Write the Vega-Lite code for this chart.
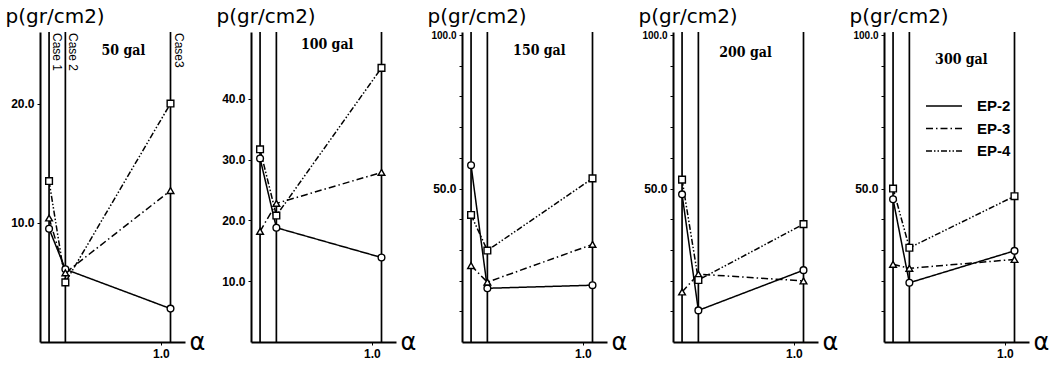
{
  "$schema": "https://vega.github.io/schema/vega-lite/v6.json",
  "background": "white",
  "padding": {"left": 5, "top": 6, "right": 0, "bottom": 0},
  "config": {
    "view": {"stroke": null},
    "axis": {"domainColor": "black", "domainWidth": 2, "tickColor": "black", "tickSize": 3, "labelColor": "black", "grid": false, "labelOverlap": false, "labelFont": "Liberation Sans Narrow, Liberation Sans, sans-serif", "labelFontWeight": "bold", "labelFontSize": 12, "labelPadding": 3, "titleColor": "black", "titleFont": "DejaVu Sans", "titleFontWeight": "normal"},
    "concat": {"spacing": 11}
  },
  "datasets": {
    "points": [
      {"panel": "50 gal", "series": "EP-2", "alpha": 0.075, "p": 9.5},
      {"panel": "50 gal", "series": "EP-2", "alpha": 0.21, "p": 6.1},
      {"panel": "50 gal", "series": "EP-2", "alpha": 1.08, "p": 2.8},
      {"panel": "50 gal", "series": "EP-3", "alpha": 0.075, "p": 10.4},
      {"panel": "50 gal", "series": "EP-3", "alpha": 0.21, "p": 5.8},
      {"panel": "50 gal", "series": "EP-3", "alpha": 1.08, "p": 12.7},
      {"panel": "50 gal", "series": "EP-4", "alpha": 0.075, "p": 13.5},
      {"panel": "50 gal", "series": "EP-4", "alpha": 0.21, "p": 5.0},
      {"panel": "50 gal", "series": "EP-4", "alpha": 1.08, "p": 20.0},
      {"panel": "100 gal", "series": "EP-2", "alpha": 0.075, "p": 30.2},
      {"panel": "100 gal", "series": "EP-2", "alpha": 0.21, "p": 18.8},
      {"panel": "100 gal", "series": "EP-2", "alpha": 1.08, "p": 13.9},
      {"panel": "100 gal", "series": "EP-3", "alpha": 0.075, "p": 18.2},
      {"panel": "100 gal", "series": "EP-3", "alpha": 0.21, "p": 22.8},
      {"panel": "100 gal", "series": "EP-3", "alpha": 1.08, "p": 27.9},
      {"panel": "100 gal", "series": "EP-4", "alpha": 0.075, "p": 31.7},
      {"panel": "100 gal", "series": "EP-4", "alpha": 0.21, "p": 20.8},
      {"panel": "100 gal", "series": "EP-4", "alpha": 1.08, "p": 45.1},
      {"panel": "150 gal", "series": "EP-2", "alpha": 0.075, "p": 57.6},
      {"panel": "150 gal", "series": "EP-2", "alpha": 0.21, "p": 17.5},
      {"panel": "150 gal", "series": "EP-2", "alpha": 1.08, "p": 18.5},
      {"panel": "150 gal", "series": "EP-3", "alpha": 0.075, "p": 24.9},
      {"panel": "150 gal", "series": "EP-3", "alpha": 0.21, "p": 19.5},
      {"panel": "150 gal", "series": "EP-3", "alpha": 1.08, "p": 31.8},
      {"panel": "150 gal", "series": "EP-4", "alpha": 0.075, "p": 41.4},
      {"panel": "150 gal", "series": "EP-4", "alpha": 0.21, "p": 29.8},
      {"panel": "150 gal", "series": "EP-4", "alpha": 1.08, "p": 53.3},
      {"panel": "200 gal", "series": "EP-2", "alpha": 0.075, "p": 48.1},
      {"panel": "200 gal", "series": "EP-2", "alpha": 0.21, "p": 10.3},
      {"panel": "200 gal", "series": "EP-2", "alpha": 1.08, "p": 23.4},
      {"panel": "200 gal", "series": "EP-3", "alpha": 0.075, "p": 16.3},
      {"panel": "200 gal", "series": "EP-3", "alpha": 0.21, "p": 22.1},
      {"panel": "200 gal", "series": "EP-3", "alpha": 1.08, "p": 19.9},
      {"panel": "200 gal", "series": "EP-4", "alpha": 0.075, "p": 52.9},
      {"panel": "200 gal", "series": "EP-4", "alpha": 0.21, "p": 20.2},
      {"panel": "200 gal", "series": "EP-4", "alpha": 1.08, "p": 38.4},
      {"panel": "300 gal", "series": "EP-2", "alpha": 0.075, "p": 46.5},
      {"panel": "300 gal", "series": "EP-2", "alpha": 0.21, "p": 19.3},
      {"panel": "300 gal", "series": "EP-2", "alpha": 1.08, "p": 29.7},
      {"panel": "300 gal", "series": "EP-3", "alpha": 0.075, "p": 25.3},
      {"panel": "300 gal", "series": "EP-3", "alpha": 0.21, "p": 24.0},
      {"panel": "300 gal", "series": "EP-3", "alpha": 1.08, "p": 26.9},
      {"panel": "300 gal", "series": "EP-4", "alpha": 0.075, "p": 50.0},
      {"panel": "300 gal", "series": "EP-4", "alpha": 0.21, "p": 30.7},
      {"panel": "300 gal", "series": "EP-4", "alpha": 1.08, "p": 47.5}
    ],
    "cases": [
      {"case": "Case 1", "alpha": 0.075},
      {"case": "Case 2", "alpha": 0.21},
      {"case": "Case3", "alpha": 1.08}
    ],
    "gal": [
      {"panel": "50 gal"},
      {"panel": "100 gal"},
      {"panel": "150 gal"},
      {"panel": "200 gal"},
      {"panel": "300 gal"}
    ]
  },
  "resolve": {"scale": {"strokeDash": "independent", "shape": "independent"}, "legend": {"strokeDash": "independent", "shape": "independent"}},
  "hconcat": [
    {
      "width": 145, "height": 310,
      "layer": [
        {"data": {"name": "cases"}, "mark": {"type": "rule", "color": "black", "strokeWidth": 1.7},
          "encoding": {"x": {"field": "alpha", "type": "quantitative", "scale": {"domain": [0, 1.2], "nice": false}, "axis": {"values": [1.0], "format": ".1f", "title": "α", "titleX": 149, "titleY": 0, "titleAngle": 0, "titleAlign": "left", "titleBaseline": "middle", "titleFontSize": 24}}}},
        {"data": {"name": "points"}, "transform": [{"filter": "datum.panel == '50 gal'"}], "mark": {"type": "line", "color": "black", "strokeWidth": 1.5},
          "encoding": {"x": {"field": "alpha", "type": "quantitative"}, "y": {"field": "p", "type": "quantitative", "scale": {"domain": [0, 26], "nice": false}, "axis": {"values": [10, 20], "format": ".1f", "labelOverlap": false, "title": "p(gr/cm2)", "titleAngle": 0, "titleX": -35, "titleY": -10, "titleAlign": "left", "titleBaseline": "alphabetic", "titleFontSize": 20}},
            "strokeDash": {"field": "series", "type": "nominal", "scale": {"domain": ["EP-2", "EP-3", "EP-4"], "range": [[1, 0], [7, 3, 1.5, 3], [6, 2, 1.5, 2, 1.5, 2]]}, "legend": null}}},
        {"data": {"name": "points"}, "transform": [{"filter": "datum.panel == '50 gal'"}], "mark": {"type": "point", "filled": true, "fill": "white", "stroke": "black", "strokeWidth": 1.4, "opacity": 1, "size": 45},
          "encoding": {"x": {"field": "alpha", "type": "quantitative"}, "y": {"field": "p", "type": "quantitative"}, "shape": {"field": "series", "type": "nominal", "scale": {"domain": ["EP-2", "EP-3", "EP-4"], "range": ["circle", "triangle-up", "square"]}, "legend": null}}},
        {"data": {"name": "gal"}, "transform": [{"filter": "datum.panel == '50 gal'"}], "mark": {"type": "text", "font": "DejaVu Serif Condensed, DejaVu Serif, serif", "fontWeight": "bold", "fontSize": 14, "color": "black", "baseline": "middle", "align": "center"},
          "encoding": {"x": {"datum": 0.69, "type": "quantitative"}, "y": {"datum": 24.4, "type": "quantitative"}, "text": {"field": "panel", "type": "nominal"}}},
        {"data": {"name": "cases"}, "mark": {"type": "text", "angle": 90, "align": "left", "baseline": "bottom", "font": "Liberation Sans Narrow, Liberation Sans", "fontSize": 12, "dx": 1, "dy": -1, "color": "black"},
          "encoding": {"x": {"field": "alpha", "type": "quantitative"}, "y": {"datum": 26, "type": "quantitative"}, "text": {"field": "case"}}}
      ]
    },
    {
      "width": 145, "height": 310,
      "layer": [
        {"data": {"name": "cases"}, "mark": {"type": "rule", "color": "black", "strokeWidth": 1.7},
          "encoding": {"x": {"field": "alpha", "type": "quantitative", "scale": {"domain": [0, 1.2], "nice": false}, "axis": {"values": [1.0], "format": ".1f", "title": "α", "titleX": 149, "titleY": 0, "titleAngle": 0, "titleAlign": "left", "titleBaseline": "middle", "titleFontSize": 24}}}},
        {"data": {"name": "points"}, "transform": [{"filter": "datum.panel == '100 gal'"}], "mark": {"type": "line", "color": "black", "strokeWidth": 1.5},
          "encoding": {"x": {"field": "alpha", "type": "quantitative"}, "y": {"field": "p", "type": "quantitative", "scale": {"domain": [0, 51], "nice": false}, "axis": {"values": [10, 20, 30, 40], "format": ".1f", "labelOverlap": false, "title": "p(gr/cm2)", "titleAngle": 0, "titleX": -35, "titleY": -10, "titleAlign": "left", "titleBaseline": "alphabetic", "titleFontSize": 20}},
            "strokeDash": {"field": "series", "type": "nominal", "scale": {"domain": ["EP-2", "EP-3", "EP-4"], "range": [[1, 0], [7, 3, 1.5, 3], [6, 2, 1.5, 2, 1.5, 2]]}, "legend": null}}},
        {"data": {"name": "points"}, "transform": [{"filter": "datum.panel == '100 gal'"}], "mark": {"type": "point", "filled": true, "fill": "white", "stroke": "black", "strokeWidth": 1.4, "opacity": 1, "size": 45},
          "encoding": {"x": {"field": "alpha", "type": "quantitative"}, "y": {"field": "p", "type": "quantitative"}, "shape": {"field": "series", "type": "nominal", "scale": {"domain": ["EP-2", "EP-3", "EP-4"], "range": ["circle", "triangle-up", "square"]}, "legend": null}}},
        {"data": {"name": "gal"}, "transform": [{"filter": "datum.panel == '100 gal'"}], "mark": {"type": "text", "font": "DejaVu Serif Condensed, DejaVu Serif, serif", "fontWeight": "bold", "fontSize": 14, "color": "black", "baseline": "middle", "align": "center"},
          "encoding": {"x": {"datum": 0.63, "type": "quantitative"}, "y": {"datum": 48.9, "type": "quantitative"}, "text": {"field": "panel", "type": "nominal"}}}
      ]
    },
    {
      "width": 145, "height": 310,
      "layer": [
        {"data": {"name": "cases"}, "mark": {"type": "rule", "color": "black", "strokeWidth": 1.7},
          "encoding": {"x": {"field": "alpha", "type": "quantitative", "scale": {"domain": [0, 1.2], "nice": false}, "axis": {"values": [1.0], "format": ".1f", "title": "α", "titleX": 149, "titleY": 0, "titleAngle": 0, "titleAlign": "left", "titleBaseline": "middle", "titleFontSize": 24}}}},
        {"data": {"name": "points"}, "transform": [{"filter": "datum.panel == '150 gal'"}], "mark": {"type": "line", "color": "black", "strokeWidth": 1.5},
          "encoding": {"x": {"field": "alpha", "type": "quantitative"}, "y": {"field": "p", "type": "quantitative", "scale": {"domain": [0, 101], "nice": false}, "axis": {"values": [10, 20, 30, 40, 50, 60, 70, 80, 90, 100], "tickCount": 12, "format": ".1f", "labelOverlap": false, "labelExpr": "datum.value % 50 === 0 ? datum.label : ''", "labelFontSize": {"condition": {"test": "datum.value >= 100", "value": 10}, "value": 12}, "title": "p(gr/cm2)", "titleAngle": 0, "titleX": -35, "titleY": -10, "titleAlign": "left", "titleBaseline": "alphabetic", "titleFontSize": 20}},
            "strokeDash": {"field": "series", "type": "nominal", "scale": {"domain": ["EP-2", "EP-3", "EP-4"], "range": [[1, 0], [7, 3, 1.5, 3], [6, 2, 1.5, 2, 1.5, 2]]}, "legend": null}}},
        {"data": {"name": "points"}, "transform": [{"filter": "datum.panel == '150 gal'"}], "mark": {"type": "point", "filled": true, "fill": "white", "stroke": "black", "strokeWidth": 1.4, "opacity": 1, "size": 45},
          "encoding": {"x": {"field": "alpha", "type": "quantitative"}, "y": {"field": "p", "type": "quantitative"}, "shape": {"field": "series", "type": "nominal", "scale": {"domain": ["EP-2", "EP-3", "EP-4"], "range": ["circle", "triangle-up", "square"]}, "legend": null}}},
        {"data": {"name": "gal"}, "transform": [{"filter": "datum.panel == '150 gal'"}], "mark": {"type": "text", "font": "DejaVu Serif Condensed, DejaVu Serif, serif", "fontWeight": "bold", "fontSize": 14, "color": "black", "baseline": "middle", "align": "center"},
          "encoding": {"x": {"datum": 0.64, "type": "quantitative"}, "y": {"datum": 94.8, "type": "quantitative"}, "text": {"field": "panel", "type": "nominal"}}}
      ]
    },
    {
      "width": 145, "height": 310,
      "layer": [
        {"data": {"name": "cases"}, "mark": {"type": "rule", "color": "black", "strokeWidth": 1.7},
          "encoding": {"x": {"field": "alpha", "type": "quantitative", "scale": {"domain": [0, 1.2], "nice": false}, "axis": {"values": [1.0], "format": ".1f", "title": "α", "titleX": 149, "titleY": 0, "titleAngle": 0, "titleAlign": "left", "titleBaseline": "middle", "titleFontSize": 24}}}},
        {"data": {"name": "points"}, "transform": [{"filter": "datum.panel == '200 gal'"}], "mark": {"type": "line", "color": "black", "strokeWidth": 1.5},
          "encoding": {"x": {"field": "alpha", "type": "quantitative"}, "y": {"field": "p", "type": "quantitative", "scale": {"domain": [0, 101], "nice": false}, "axis": {"values": [10, 20, 30, 40, 50, 60, 70, 80, 90, 100], "tickCount": 12, "format": ".1f", "labelOverlap": false, "labelExpr": "datum.value % 50 === 0 ? datum.label : ''", "labelFontSize": {"condition": {"test": "datum.value >= 100", "value": 10}, "value": 12}, "title": "p(gr/cm2)", "titleAngle": 0, "titleX": -35, "titleY": -10, "titleAlign": "left", "titleBaseline": "alphabetic", "titleFontSize": 20}},
            "strokeDash": {"field": "series", "type": "nominal", "scale": {"domain": ["EP-2", "EP-3", "EP-4"], "range": [[1, 0], [7, 3, 1.5, 3], [6, 2, 1.5, 2, 1.5, 2]]}, "legend": null}}},
        {"data": {"name": "points"}, "transform": [{"filter": "datum.panel == '200 gal'"}], "mark": {"type": "point", "filled": true, "fill": "white", "stroke": "black", "strokeWidth": 1.4, "opacity": 1, "size": 45},
          "encoding": {"x": {"field": "alpha", "type": "quantitative"}, "y": {"field": "p", "type": "quantitative"}, "shape": {"field": "series", "type": "nominal", "scale": {"domain": ["EP-2", "EP-3", "EP-4"], "range": ["circle", "triangle-up", "square"]}, "legend": null}}},
        {"data": {"name": "gal"}, "transform": [{"filter": "datum.panel == '200 gal'"}], "mark": {"type": "text", "font": "DejaVu Serif Condensed, DejaVu Serif, serif", "fontWeight": "bold", "fontSize": 14, "color": "black", "baseline": "middle", "align": "center"},
          "encoding": {"x": {"datum": 0.6, "type": "quantitative"}, "y": {"datum": 94, "type": "quantitative"}, "text": {"field": "panel", "type": "nominal"}}}
      ]
    },
    {
      "width": 145, "height": 310,
      "layer": [
        {"data": {"name": "cases"}, "mark": {"type": "rule", "color": "black", "strokeWidth": 1.7},
          "encoding": {"x": {"field": "alpha", "type": "quantitative", "scale": {"domain": [0, 1.2], "nice": false}, "axis": {"values": [1.0], "format": ".1f", "title": "α", "titleX": 149, "titleY": 0, "titleAngle": 0, "titleAlign": "left", "titleBaseline": "middle", "titleFontSize": 24}}}},
        {"data": {"name": "points"}, "transform": [{"filter": "datum.panel == '300 gal'"}], "mark": {"type": "line", "color": "black", "strokeWidth": 1.5},
          "encoding": {"x": {"field": "alpha", "type": "quantitative"}, "y": {"field": "p", "type": "quantitative", "scale": {"domain": [0, 101], "nice": false}, "axis": {"values": [10, 20, 30, 40, 50, 60, 70, 80, 90, 100], "tickCount": 12, "format": ".1f", "labelOverlap": false, "labelExpr": "datum.value % 50 === 0 ? datum.label : ''", "labelFontSize": {"condition": {"test": "datum.value >= 100", "value": 10}, "value": 12}, "title": "p(gr/cm2)", "titleAngle": 0, "titleX": -35, "titleY": -10, "titleAlign": "left", "titleBaseline": "alphabetic", "titleFontSize": 20}},
            "strokeDash": {"field": "series", "type": "nominal", "scale": {"domain": ["EP-2", "EP-3", "EP-4"], "range": [[1, 0], [7, 3, 1.5, 3], [6, 2, 1.5, 2, 1.5, 2]]},
              "legend": {"orient": "none", "legendX": 41, "legendY": 66, "title": null, "padding": 0, "symbolSize": 1296, "clipHeight": 16, "symbolStrokeWidth": 1.5, "symbolStrokeColor": "black", "symbolOpacity": 1, "rowPadding": 6.5, "labelOffset": 14, "labelFont": "Liberation Sans, sans-serif", "labelFontWeight": "bold", "labelFontSize": 15, "labelColor": "black"}}}},
        {"data": {"name": "points"}, "transform": [{"filter": "datum.panel == '300 gal' && datum.series == 'EP-2'"}], "mark": {"type": "point", "shape": "circle", "filled": true, "fill": "white", "stroke": "black", "strokeWidth": 1.4, "opacity": 1, "size": 45},
          "encoding": {"x": {"field": "alpha", "type": "quantitative"}, "y": {"field": "p", "type": "quantitative"}}},
        {"data": {"name": "points"}, "transform": [{"filter": "datum.panel == '300 gal' && datum.series == 'EP-3'"}], "mark": {"type": "point", "shape": "triangle-up", "filled": true, "fill": "white", "stroke": "black", "strokeWidth": 1.4, "opacity": 1, "size": 45},
          "encoding": {"x": {"field": "alpha", "type": "quantitative"}, "y": {"field": "p", "type": "quantitative"}}},
        {"data": {"name": "points"}, "transform": [{"filter": "datum.panel == '300 gal' && datum.series == 'EP-4'"}], "mark": {"type": "point", "shape": "square", "filled": true, "fill": "white", "stroke": "black", "strokeWidth": 1.4, "opacity": 1, "size": 45},
          "encoding": {"x": {"field": "alpha", "type": "quantitative"}, "y": {"field": "p", "type": "quantitative"}}},
        {"data": {"name": "gal"}, "transform": [{"filter": "datum.panel == '300 gal'"}], "mark": {"type": "text", "font": "DejaVu Serif Condensed, DejaVu Serif, serif", "fontWeight": "bold", "fontSize": 14, "color": "black", "baseline": "middle", "align": "center"},
          "encoding": {"x": {"datum": 0.64, "type": "quantitative"}, "y": {"datum": 91.8, "type": "quantitative"}, "text": {"field": "panel", "type": "nominal"}}}
      ]
    }
  ]
}
